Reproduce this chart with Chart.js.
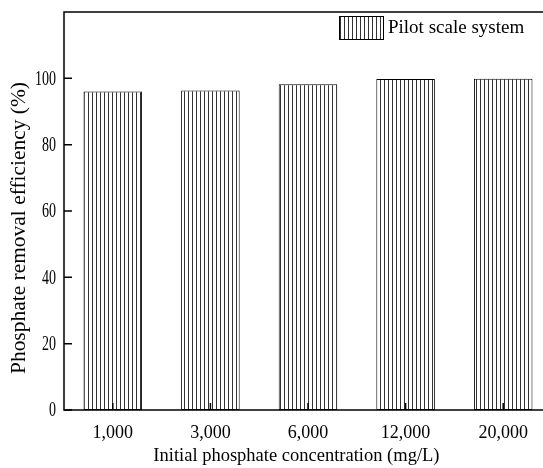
<!DOCTYPE html>
<html><head><meta charset="utf-8">
<script src="https://cdn.jsdelivr.net/npm/chart.js@4"></script>
<style>html,body{margin:0;padding:0;overflow:hidden;background:#fff;width:543px;height:468px}canvas{display:block}</style>
</head><body><canvas id="c" width="560" height="468"></canvas>
<script>
const categories = ['1,000', '3,000', '6,000', '12,000', '20,000'];
const efficiency = [96.0, 96.3, 98.2, 99.8, 99.9];
const yTicks = [0, 20, 40, 60, 80, 100];
const seriesName = 'Pilot scale system';
const xTitle = 'Initial phosphate concentration (mg/L)';
const yTitle = 'Phosphate removal efficiency (%)';

const FONT = "'Liberation Serif', 'Times New Roman', serif";
const ctxMain = document.getElementById('c').getContext('2d');

function makePattern() {
  const p = document.createElement('canvas');
  p.width = 4; p.height = 4;
  const g = p.getContext('2d');
  g.fillStyle = '#fff'; g.fillRect(0, 0, 4, 4);
  g.fillStyle = '#333'; g.fillRect(0, 0, 1, 4);
  return ctxMain.createPattern(p, 'repeat');
}
const hatch = makePattern();

const framePlugin = {
  id: 'frame',
  afterDatasetsDraw(chart) {
    const {ctx, chartArea: a, scales} = chart;
    ctx.save();
    ctx.strokeStyle = '#000';
    ctx.lineWidth = 1.5;
    ctx.strokeRect(a.left, a.top, a.right - a.left, a.bottom - a.top);
    ctx.beginPath();
    yTicks.forEach(v => {
      const y = scales.y.getPixelForValue(v);
      ctx.moveTo(a.left, y); ctx.lineTo(a.left + 8, y);
    });
    categories.forEach((c, i) => {
      const x = scales.x.getPixelForValue(i);
      ctx.moveTo(x, a.bottom); ctx.lineTo(x, a.bottom - 7);
    });
    ctx.stroke();

    // y tick labels (tall, narrow glyphs as in the reference)
    ctx.fillStyle = '#000';
    ctx.font = '20px ' + FONT;
    ctx.textBaseline = 'middle';
    ctx.textAlign = 'right';
    yTicks.forEach(v => {
      const y = scales.y.getPixelForValue(v);
      ctx.save();
      ctx.translate(a.left - 8, y + 1);
      ctx.scale(0.7, 1);
      ctx.fillText(String(v), 0, 0);
      ctx.restore();
    });

    // y axis title
    ctx.save();
    ctx.font = '20px ' + FONT;
    ctx.textAlign = 'center';
    ctx.textBaseline = 'middle';
    const w = ctx.measureText(yTitle).width;
    ctx.translate(20, 228);
    ctx.rotate(-Math.PI / 2);
    ctx.scale(292 / w, 1);
    ctx.fillText(yTitle, 0, 0);
    ctx.restore();

    // legend
    const bx = 339, by = 16, bw = 44, bh = 23;
    ctx.fillStyle = hatch;
    ctx.fillRect(bx, by, bw, bh);
    ctx.lineWidth = 1;
    ctx.strokeRect(bx + 0.5, by + 0.5, bw, bh);
    ctx.fillStyle = '#000';
    ctx.font = '19px ' + FONT;
    ctx.textBaseline = 'middle';
    ctx.textAlign = 'left';
    ctx.fillText(chart.data.datasets[0].label, bx + bw + 5, by + bh / 2 + 1);
    ctx.restore();
  }
};

new Chart(ctxMain, {
  type: 'bar',
  data: {
    labels: categories,
    datasets: [{
      label: seriesName,
      data: efficiency,
      backgroundColor: hatch,
      borderColor: '#000',
      borderWidth: 1,
      borderSkipped: false,
      barPercentage: 0.6,
      categoryPercentage: 1.0
    }]
  },
  options: {
    responsive: false,
    animation: false,
    layout: {padding: {top: 12, right: 8, left: 0, bottom: 0}},
    plugins: {legend: {display: false}, tooltip: {enabled: false}},
    scales: {
      x: {
        grid: {display: false, drawTicks: false},
        border: {display: false},
        ticks: {color: '#000', font: {family: FONT, size: 18}, padding: 12, maxRotation: 0},
        title: {display: true, text: xTitle + '\u00a0\u00a0\u00a0\u00a0\u00a0', color: '#000', font: {family: FONT, size: 18.5}, padding: {top: 0, bottom: 1}},
        afterFit(s) { s.height = 58; }
      },
      y: {
        min: 0, max: 120,
        grid: {display: false, drawTicks: false},
        border: {display: false},
        afterBuildTicks(s) { s.ticks = yTicks.map(v => ({value: v})); },
        ticks: {display: false},
        title: {display: false, text: yTitle},
        afterFit(s) { s.width = 64; }
      }
    }
  },
  plugins: [framePlugin]
});
</script>
</body></html>
